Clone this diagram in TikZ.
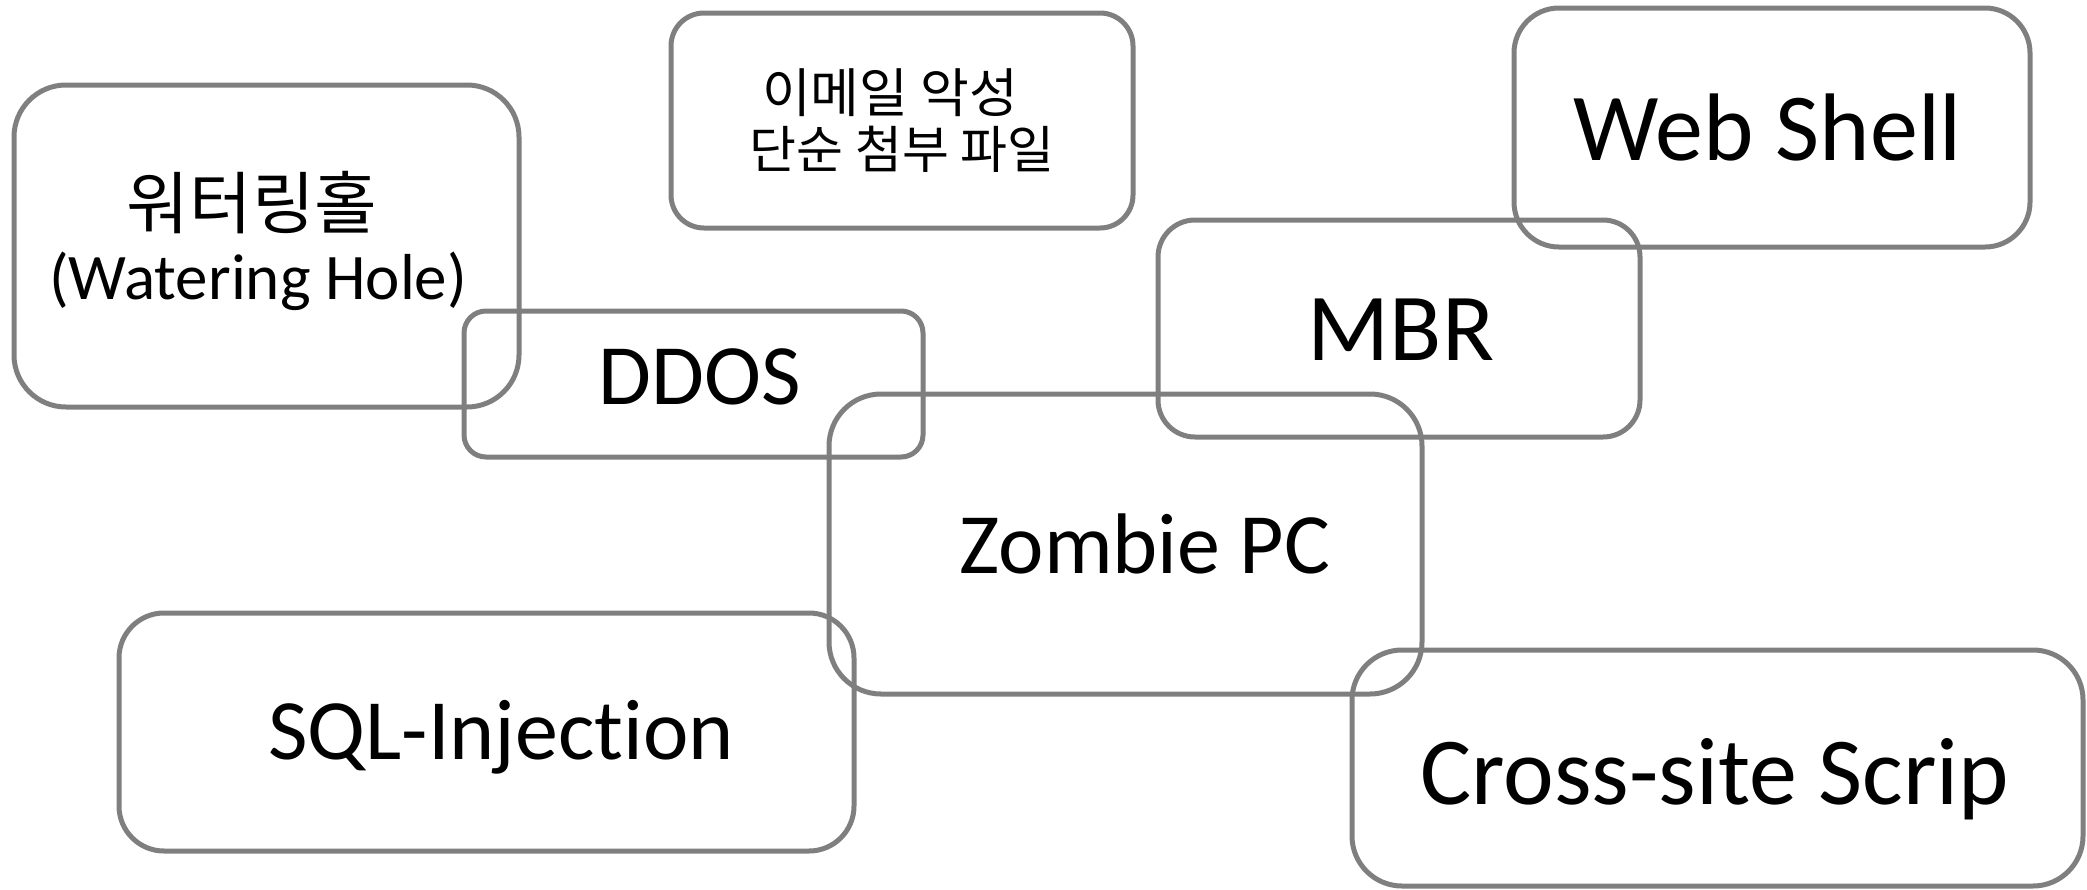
\documentclass[tikz,border=0pt]{standalone}
\usepackage{fontspec}
\setmainfont[Ligatures=NoCommon]{Carlito}
\newfontfamily\kr{Noto Sans CJK KR}
\definecolor{boxgray}{HTML}{7F7F7F}
\tikzset{
  tbox/.style={draw=boxgray, line width=5pt, inner sep=0pt, outer sep=0pt,
    rectangle, fill=none},
  lbl/.style={anchor=base, inner sep=0pt, outer sep=0pt, text=black},
}
\newcommand{\fs}[1]{\fontsize{#1}{#1}\selectfont}
\begin{document}
\begin{tikzpicture}[x=1pt, y=-1pt]
\useasboundingbox (0,0) rectangle (2087,889);

% outlines (centre, size, corner radius)
\node[tbox, rounded corners=52pt, minimum width=505pt, minimum height=322pt] (whbox) at (266.5,246) {};
\node[tbox, rounded corners=33pt, minimum width=462pt, minimum height=215pt] (mailbox) at (902,120.5) {};
\node[tbox, rounded corners=45pt, minimum width=516pt, minimum height=239pt] (wsbox) at (1772,127.5) {};
\node[tbox, rounded corners=37pt, minimum width=482pt, minimum height=217pt] (mbrbox) at (1399,328.5) {};
\node[tbox, rounded corners=22pt, minimum width=459pt, minimum height=146pt] (ddosbox) at (693.5,384) {};
\node[tbox, rounded corners=52pt, minimum width=593pt, minimum height=300pt] (zombox) at (1125.5,544) {};
\node[tbox, rounded corners=45pt, minimum width=735pt, minimum height=238pt] (sqlbox) at (486.5,732) {};
\node[tbox, rounded corners=50pt, minimum width=731pt, minimum height=236pt] (xssbox) at (1717.5,768) {};

% labels (placed on their baselines)
\node[lbl, font=\kr\fs{68}] (wh1) at (252,228) {워터링홀};
\node[lbl, font=\fs{65}] (wh2) at (258,299) {(Watering Hole)};
\node[lbl, font=\kr\fs{53}] (mail1) at (890,112) {이메일 악성};
\node[lbl, font=\kr\fs{51}] (mail2) at (902,168) {단순 첨부 파일};
\node[lbl, font=\fs{96}] (ws) at (1768,160) {Web Shell};
\node[lbl, font=\fs{96}] (mbr) at (1401,360) {MBR};
\node[lbl, font=\fs{86}] (ddos) at (700,404) {DDOS};
\node[lbl, font=\fs{86}] (zom) at (1145,573) {Zombie PC};
\node[lbl, font=\fs{86}] (sql) at (501,759) {SQL-Injection};
\node[lbl, font=\fs{96}] (xss) at (1715,804) {Cross-site Scrip};
\end{tikzpicture}
\end{document}
